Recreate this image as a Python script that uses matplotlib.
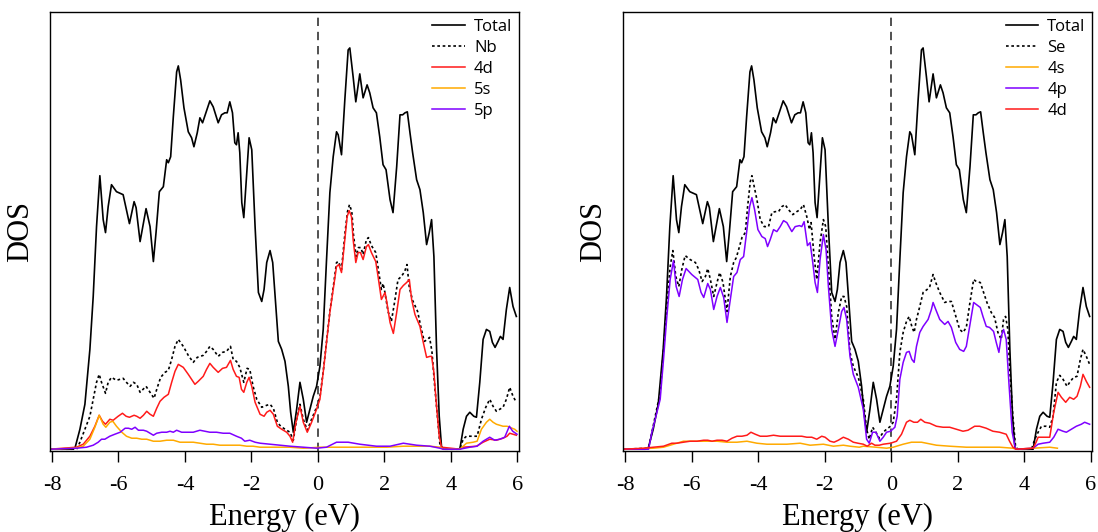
import matplotlib
matplotlib.use("Agg")
import matplotlib.pyplot as plt

# ---------------- data: energies (eV) and DOS (arb. units) ----------------
total_e = [-8.06, -7.40, -7.31, -7.16, -7.01, -6.86, -6.76, -6.66, -6.56, -6.46,
           -6.39, -6.31, -6.21, -6.06, -5.86, -5.76, -5.67, -5.53, -5.47, -5.35,
           -5.17, -5.05, -4.95, -4.87, -4.77, -4.65, -4.55, -4.50, -4.43, -4.35,
           -4.25, -4.20, -4.13, -4.03, -3.90, -3.80, -3.73, -3.63, -3.55, -3.47,
           -3.37, -3.25, -3.15, -3.00, -2.90, -2.80, -2.73, -2.65, -2.57, -2.50,
           -2.45, -2.40, -2.35, -2.29, -2.23, -2.14, -2.07, -1.99, -1.89, -1.79,
           -1.69, -1.62, -1.54, -1.44, -1.36, -1.29, -1.19, -1.09, -0.99, -0.89,
           -0.82, -0.74, -0.64, -0.54, -0.44, -0.34, -0.24, -0.14, -0.04, 0.06,
           0.16, 0.26, 0.36, 0.46, 0.56, 0.61, 0.71, 0.81, 0.91, 0.96,
           1.06, 1.14, 1.26, 1.36, 1.48, 1.56, 1.66, 1.76, 1.86, 1.96,
           2.05, 2.17, 2.26, 2.37, 2.47, 2.55, 2.62, 2.69, 2.77, 2.85,
           2.97, 3.07, 3.17, 3.27, 3.35, 3.42, 3.49, 3.57, 3.65, 3.72,
           3.77, 4.27, 4.37, 4.47, 4.57, 4.69, 4.77, 4.87, 4.97, 5.07,
           5.17, 5.25, 5.33, 5.42, 5.49, 5.57, 5.67, 5.77, 5.87, 5.97]
total_dos = [0, 0, 0.01, 0.20, 0.45, 1.00, 1.53, 2.23, 2.74, 2.30,
             2.17, 2.43, 2.65, 2.58, 2.55, 2.40, 2.26, 2.48, 2.42, 2.08,
             2.41, 2.23, 1.88, 2.17, 2.58, 2.63, 2.90, 2.87, 2.93, 3.33,
             3.78, 3.84, 3.70, 3.42, 3.18, 3.12, 3.03, 3.17, 3.32, 3.27,
             3.37, 3.49, 3.43, 3.27, 3.35, 3.37, 3.37, 3.48, 3.37, 3.07,
             3.05, 3.17, 2.97, 2.47, 2.32, 2.77, 3.12, 3.00, 2.23, 1.57,
             1.48, 1.60, 1.87, 1.99, 1.87, 1.55, 1.08, 1.00, 0.88, 0.63,
             0.37, 0.17, 0.40, 0.67, 0.50, 0.27, 0.40, 0.53, 0.63, 0.83,
             1.20, 1.90, 2.57, 2.93, 3.18, 3.15, 2.95, 3.50, 4.00, 4.02,
             3.73, 3.48, 3.76, 3.52, 3.65, 3.57, 3.42, 3.37, 3.13, 2.85,
             2.80, 2.50, 2.37, 2.83, 3.35, 3.35, 3.37, 3.38, 3.17, 2.97,
             2.70, 2.60, 2.37, 2.05, 2.17, 2.30, 1.93, 1.00, 0.33, 0.02,
             0, 0, 0.20, 0.33, 0.37, 0.33, 0.32, 0.67, 1.10, 1.20,
             1.18, 1.07, 1.02, 1.08, 1.13, 1.10, 1.40, 1.62, 1.43, 1.33]

# Nb projected DOS
nb_e = [-8.06, -7.26, -7.16, -7.01, -6.86, -6.76, -6.66, -6.58, -6.51, -6.39,
        -6.31, -6.21, -6.06, -5.86, -5.76, -5.65, -5.55, -5.45, -5.35, -5.17,
        -5.05, -4.93, -4.83, -4.73, -4.60, -4.50, -4.40, -4.30, -4.20, -4.05,
        -3.90, -3.75, -3.63, -3.45, -3.35, -3.25, -3.15, -3.00, -2.87, -2.75,
        -2.63, -2.55, -2.45, -2.35, -2.23, -2.13, -2.05, -1.95, -1.84, -1.69,
        -1.54, -1.44, -1.34, -1.22, -1.12, -0.99, -0.84, -0.74, -0.64, -0.54,
        -0.44, -0.32, -0.19, -0.04, 0.06, 0.16, 0.26, 0.36, 0.46, 0.56,
        0.62, 0.71, 0.81, 0.89, 0.95, 1.02, 1.07, 1.15, 1.22, 1.29,
        1.36, 1.46, 1.52, 1.61, 1.74, 1.81, 1.91, 1.96, 2.01, 2.11,
        2.21, 2.31, 2.41, 2.51, 2.61, 2.68, 2.75, 2.85, 3.00, 3.10,
        3.20, 3.30, 3.36, 3.43, 3.51, 3.59, 3.67, 3.77, 4.27, 4.37,
        4.47, 4.67, 4.79, 4.92, 5.05, 5.17, 5.27, 5.37, 5.47, 5.57,
        5.67, 5.77, 5.87, 5.97]
nb_dos = [0, 0, 0.07, 0.20, 0.33, 0.50, 0.67, 0.75, 0.67, 0.56,
          0.67, 0.72, 0.69, 0.71, 0.67, 0.63, 0.67, 0.65, 0.57, 0.63,
          0.57, 0.51, 0.62, 0.72, 0.77, 0.79, 0.90, 1.03, 1.10, 1.03,
          0.94, 0.87, 0.92, 0.94, 0.98, 1.03, 1.00, 0.93, 0.97, 0.98,
          1.03, 0.90, 0.88, 0.82, 0.67, 0.81, 0.80, 0.63, 0.50, 0.42,
          0.44, 0.45, 0.41, 0.27, 0.23, 0.20, 0.17, 0.09, 0.30, 0.45,
          0.30, 0.19, 0.30, 0.42, 0.52, 0.78, 1.08, 1.38, 1.62, 1.87,
          1.88, 1.80, 2.15, 2.38, 2.45, 2.38, 2.15, 1.93, 2.02, 2.02,
          1.95, 2.10, 2.12, 2.04, 1.97, 1.82, 1.60, 1.66, 1.58, 1.38,
          1.28, 1.48, 1.70, 1.73, 1.78, 1.85, 1.62, 1.49, 1.38, 1.22,
          1.08, 1.10, 1.12, 0.98, 0.65, 0.35, 0.05, 0, 0, 0.10,
          0.13, 0.13, 0.13, 0.30, 0.42, 0.50, 0.43, 0.38, 0.40, 0.42,
          0.50, 0.62, 0.53, 0.47]

nb4d_e = [-8.06, -7.26, -7.06, -6.86, -6.71, -6.58, -6.48, -6.39, -6.26, -6.16,
          -6.01, -5.88, -5.77, -5.67, -5.53, -5.45, -5.35, -5.25, -5.15, -5.05,
          -4.95, -4.85, -4.75, -4.63, -4.50, -4.40, -4.30, -4.20, -4.05, -3.90,
          -3.80, -3.70, -3.60, -3.45, -3.35, -3.25, -3.15, -3.00, -2.87, -2.75,
          -2.63, -2.55, -2.45, -2.37, -2.30, -2.23, -2.14, -2.07, -1.99, -1.89,
          -1.74, -1.62, -1.54, -1.44, -1.34, -1.22, -1.09, -0.94, -0.84, -0.76,
          -0.66, -0.54, -0.44, -0.32, -0.19, -0.04, 0.06, 0.16, 0.26, 0.36,
          0.46, 0.56, 0.63, 0.71, 0.81, 0.88, 0.94, 1.01, 1.06, 1.14,
          1.21, 1.28, 1.36, 1.46, 1.52, 1.61, 1.74, 1.81, 1.91, 2.02,
          2.07, 2.17, 2.27, 2.37, 2.47, 2.57, 2.67, 2.75, 2.82, 2.92,
          3.07, 3.17, 3.27, 3.37, 3.42, 3.49, 3.57, 3.65, 3.72, 4.27,
          4.37, 4.77, 4.97, 5.17, 5.37, 5.57, 5.69, 5.77, 5.97]
nb4d_dos = [0, 0.02, 0.05, 0.13, 0.23, 0.34, 0.28, 0.25, 0.30, 0.29,
            0.33, 0.36, 0.33, 0.32, 0.34, 0.33, 0.31, 0.34, 0.38, 0.35,
            0.33, 0.41, 0.48, 0.52, 0.55, 0.67, 0.78, 0.85, 0.82, 0.75,
            0.70, 0.65, 0.68, 0.73, 0.80, 0.86, 0.82, 0.77, 0.81, 0.82,
            0.89, 0.80, 0.73, 0.72, 0.60, 0.57, 0.67, 0.72, 0.63, 0.47,
            0.35, 0.33, 0.37, 0.39, 0.35, 0.23, 0.20, 0.17, 0.13, 0.07,
            0.27, 0.43, 0.27, 0.17, 0.27, 0.40, 0.50, 0.77, 1.07, 1.37,
            1.60, 1.83, 1.85, 1.77, 2.10, 2.33, 2.39, 2.33, 2.10, 1.87,
            1.97, 1.97, 1.90, 2.03, 2.05, 1.97, 1.88, 1.73, 1.50, 1.57,
            1.48, 1.27, 1.16, 1.37, 1.60, 1.64, 1.67, 1.70, 1.50, 1.35,
            1.23, 1.07, 0.92, 0.93, 0.93, 0.77, 0.43, 0.13, 0.02, 0,
            0.02, 0.03, 0.07, 0.10, 0.09, 0.11, 0.13, 0.16, 0.14]

nb5s_e = [-8.06, -7.31, -7.06, -6.86, -6.71, -6.58, -6.46, -6.38, -6.26, -6.17,
          -6.06, -5.90, -5.76, -5.60, -5.45, -5.30, -5.15, -4.95, -4.75, -4.55,
          -4.35, -4.15, -3.95, -3.75, -3.55, -3.35, -3.15, -2.95, -2.75, -2.55,
          -2.35, -2.14, -1.95, -1.74, -1.34, -0.84, -0.44, 0.06, 0.56, 1.06,
          1.56, 2.07, 2.57, 2.97, 3.37, 3.67, 3.77, 4.27, 4.37, 4.47,
          4.67, 4.79, 4.92, 5.07, 5.17, 5.27, 5.37, 5.47, 5.57, 5.69,
          5.77, 5.92, 5.99]
nb5s_dos = [0, 0.01, 0.03, 0.10, 0.22, 0.34, 0.25, 0.22, 0.27, 0.28,
            0.23, 0.17, 0.13, 0.11, 0.11, 0.10, 0.10, 0.08, 0.08, 0.09,
            0.09, 0.07, 0.07, 0.07, 0.06, 0.05, 0.05, 0.04, 0.04, 0.04,
            0.04, 0.03, 0.03, 0.02, 0.02, 0.02, 0.01, 0.02, 0.02, 0.02,
            0.02, 0.02, 0.03, 0.03, 0.03, 0.02, 0, 0, 0.03, 0.06,
            0.07, 0.08, 0.20, 0.27, 0.30, 0.27, 0.25, 0.24, 0.23, 0.23,
            0.22, 0.20, 0.18]

nb5p_e = [-8.06, -7.26, -6.96, -6.76, -6.61, -6.51, -6.41, -6.26, -6.11, -5.95,
          -5.80, -5.70, -5.60, -5.50, -5.40, -5.25, -5.15, -5.05, -4.95, -4.85,
          -4.70, -4.55, -4.45, -4.35, -4.25, -4.10, -3.95, -3.75, -3.65, -3.55,
          -3.40, -3.25, -3.05, -2.85, -2.65, -2.45, -2.30, -2.20, -2.05, -1.89,
          -1.74, -1.44, -1.14, -0.84, -0.44, -0.04, 0.26, 0.56, 0.91, 1.26,
          1.76, 2.17, 2.57, 2.97, 3.37, 3.67, 3.77, 4.27, 4.57, 4.79,
          4.97, 5.17, 5.32, 5.47, 5.62, 5.76, 5.86, 5.99]
nb5p_dos = [0, 0.01, 0.02, 0.04, 0.07, 0.10, 0.10, 0.13, 0.15, 0.17,
            0.21, 0.21, 0.20, 0.22, 0.19, 0.19, 0.18, 0.16, 0.14, 0.16,
            0.17, 0.17, 0.18, 0.17, 0.19, 0.17, 0.17, 0.17, 0.18, 0.19,
            0.18, 0.17, 0.17, 0.16, 0.16, 0.13, 0.11, 0.08, 0.09, 0.07,
            0.06, 0.05, 0.04, 0.03, 0.02, 0.01, 0.02, 0.07, 0.07, 0.05,
            0.03, 0.03, 0.06, 0.04, 0.03, 0.01, 0, 0, 0.02, 0.03,
            0.08, 0.12, 0.09, 0.10, 0.12, 0.23, 0.18, 0.15]

# Se projected DOS
se_e = [-8.06, -7.30, -7.20, -7.10, -6.95, -6.85, -6.75, -6.65, -6.57, -6.48,
        -6.39, -6.30, -6.20, -6.05, -5.89, -5.79, -5.69, -5.59, -5.52, -5.44,
        -5.34, -5.24, -5.16, -5.06, -4.94, -4.84, -4.74, -4.66, -4.59, -4.49,
        -4.39, -4.32, -4.24, -4.19, -4.12, -4.04, -3.94, -3.82, -3.69, -3.59,
        -3.49, -3.39, -3.29, -3.19, -3.09, -2.96, -2.84, -2.74, -2.64, -2.54,
        -2.46, -2.41, -2.32, -2.24, -2.14, -2.04, -1.97, -1.89, -1.79, -1.69,
        -1.59, -1.49, -1.42, -1.34, -1.24, -1.14, -0.99, -0.84, -0.74, -0.66,
        -0.56, -0.46, -0.36, -0.24, -0.14, -0.02, 0.06, 0.16, 0.26, 0.36,
        0.46, 0.54, 0.62, 0.69, 0.76, 0.86, 0.96, 1.08, 1.16, 1.26,
        1.34, 1.46, 1.61, 1.71, 1.81, 1.91, 2.06, 2.16, 2.26, 2.36,
        2.48, 2.56, 2.68, 2.78, 2.88, 3.01, 3.11, 3.21, 3.31, 3.38,
        3.44, 3.51, 3.56, 3.66, 3.74, 3.81, 4.22, 4.32, 4.42, 4.52,
        4.66, 4.77, 4.87, 4.97, 5.07, 5.17, 5.29, 5.39, 5.49, 5.59,
        5.69, 5.77, 5.87, 5.97]
se_dos = [0, 0.01, 0.17, 0.33, 0.57, 1.00, 1.43, 1.83, 1.99, 1.73,
          1.63, 1.80, 1.94, 1.90, 1.87, 1.80, 1.68, 1.73, 1.81, 1.70,
          1.53, 1.67, 1.77, 1.67, 1.38, 1.73, 1.87, 1.92, 2.00, 2.12,
          2.17, 2.43, 2.68, 2.74, 2.63, 2.50, 2.30, 2.23, 2.23, 2.37,
          2.38, 2.38, 2.43, 2.45, 2.40, 2.35, 2.38, 2.40, 2.45, 2.33,
          2.20, 2.27, 1.93, 1.70, 2.07, 2.30, 2.23, 1.83, 1.33, 1.10,
          1.37, 1.53, 1.53, 1.43, 0.97, 0.83, 0.72, 0.50, 0.20, 0.10,
          0.22, 0.17, 0.11, 0.17, 0.20, 0.23, 0.27, 0.50, 0.97, 1.17,
          1.28, 1.33, 1.23, 1.17, 1.30, 1.43, 1.57, 1.60, 1.63, 1.75,
          1.67, 1.57, 1.47, 1.48, 1.48, 1.37, 1.20, 1.17, 1.22, 1.45,
          1.70, 1.68, 1.67, 1.57, 1.47, 1.37, 1.32, 1.17, 1.10, 1.30,
          1.33, 1.20, 0.83, 0.33, 0.03, 0, 0, 0.10, 0.17, 0.23,
          0.23, 0.22, 0.33, 0.67, 0.74, 0.70, 0.63, 0.68, 0.72, 0.73,
          0.90, 1.00, 0.93, 0.85]

se4s_e = [-8.06, -7.15, -6.85, -6.55, -6.25, -5.95, -5.64, -5.44, -5.24, -4.94,
          -4.64, -4.34, -4.04, -3.74, -3.44, -3.14, -2.74, -2.44, -2.04, -1.74,
          -1.44, -1.24, -0.96, -0.84, -0.46, -0.14, 0.06, 0.36, 0.61, 0.76,
          0.91, 1.06, 1.36, 1.76, 2.26, 2.76, 3.26, 3.66, 3.76, 4.27,
          4.77, 5.00]
se4s_dos = [0, 0.01, 0.02, 0.05, 0.08, 0.08, 0.08, 0.08, 0.08, 0.07,
            0.07, 0.08, 0.06, 0.05, 0.05, 0.05, 0.06, 0.04, 0.05, 0.03,
            0.04, 0.03, 0.02, 0.03, 0.02, 0.01, 0.02, 0.05, 0.07, 0.07,
            0.07, 0.06, 0.04, 0.03, 0.02, 0.02, 0.02, 0.01, 0, 0.01,
            0.02, 0.01]

se4p_e = [-8.06, -7.30, -7.20, -7.10, -6.95, -6.85, -6.75, -6.65, -6.55, -6.47,
          -6.38, -6.28, -6.17, -6.00, -5.82, -5.72, -5.64, -5.52, -5.44, -5.34,
          -5.24, -5.14, -5.04, -4.94, -4.84, -4.74, -4.64, -4.54, -4.44, -4.34,
          -4.26, -4.19, -4.11, -4.01, -3.89, -3.79, -3.72, -3.64, -3.54, -3.44,
          -3.34, -3.24, -3.14, -2.99, -2.89, -2.76, -2.69, -2.62, -2.52, -2.44,
          -2.36, -2.29, -2.22, -2.14, -2.04, -1.96, -1.89, -1.79, -1.69, -1.59,
          -1.49, -1.42, -1.34, -1.24, -1.14, -0.99, -0.84, -0.74, -0.66, -0.56,
          -0.46, -0.34, -0.24, -0.14, -0.02, 0.11, 0.18, 0.26, 0.36, 0.46,
          0.54, 0.62, 0.69, 0.76, 0.86, 0.96, 1.11, 1.21, 1.26, 1.34,
          1.46, 1.61, 1.71, 1.81, 1.94, 2.06, 2.18, 2.26, 2.36, 2.48,
          2.56, 2.68, 2.76, 2.86, 2.96, 3.08, 3.16, 3.24, 3.31, 3.38,
          3.46, 3.54, 3.64, 3.74, 4.27, 4.42, 4.57, 4.77, 4.89, 5.02,
          5.17, 5.27, 5.42, 5.57, 5.72, 5.82, 5.97]
se4p_dos = [0, 0, 0.17, 0.30, 0.50, 0.90, 1.33, 1.70, 1.89, 1.63,
            1.53, 1.70, 1.81, 1.75, 1.70, 1.57, 1.52, 1.66, 1.60, 1.40,
            1.53, 1.62, 1.52, 1.27, 1.50, 1.73, 1.77, 1.90, 1.93, 2.20,
            2.43, 2.52, 2.40, 2.20, 2.13, 2.11, 2.03, 2.10, 2.20, 2.18,
            2.23, 2.29, 2.27, 2.18, 2.23, 2.24, 2.23, 2.28, 2.04, 2.07,
            1.87, 1.67, 1.57, 1.90, 2.15, 2.00, 1.63, 1.20, 1.03, 1.20,
            1.38, 1.42, 1.30, 0.93, 0.75, 0.62, 0.40, 0.10, 0.06, 0.17,
            0.17, 0.08, 0.12, 0.17, 0.18, 0.22, 0.33, 0.70, 0.87, 0.97,
            0.98, 0.90, 0.87, 1.03, 1.17, 1.23, 1.30, 1.40, 1.47, 1.40,
            1.30, 1.25, 1.28, 1.22, 1.07, 1.00, 0.98, 1.03, 1.23, 1.47,
            1.45, 1.42, 1.33, 1.23, 1.22, 1.18, 1.07, 0.97, 1.13, 1.20,
            1.10, 0.67, 0.17, 0, 0.01, 0.05, 0.06, 0.07, 0.12, 0.20,
            0.18, 0.17, 0.20, 0.23, 0.25, 0.27, 0.25]

se4d_e = [-8.06, -7.45, -7.15, -6.85, -6.60, -6.45, -6.25, -6.05, -5.84, -5.64,
          -5.52, -5.39, -5.24, -5.09, -4.94, -4.79, -4.64, -4.49, -4.34, -4.22,
          -4.09, -3.94, -3.74, -3.54, -3.34, -3.14, -2.89, -2.69, -2.54, -2.39,
          -2.24, -2.09, -1.99, -1.84, -1.72, -1.59, -1.44, -1.29, -1.14, -1.00,
          -0.84, -0.72, -0.59, -0.49, -0.36, -0.24, -0.02, 0.16, 0.31, 0.46,
          0.56, 0.68, 0.79, 0.89, 1.01, 1.16, 1.36, 1.56, 1.76, 1.96,
          2.16, 2.31, 2.51, 2.66, 2.86, 3.06, 3.26, 3.46, 3.56, 3.66,
          3.76, 4.27, 4.36, 4.42, 4.57, 4.77, 4.89, 5.02, 5.12, 5.25,
          5.37, 5.49, 5.59, 5.69, 5.77, 5.87, 5.97]
se4d_dos = [0, 0.01, 0.02, 0.03, 0.06, 0.06, 0.07, 0.08, 0.08, 0.09,
            0.09, 0.08, 0.09, 0.09, 0.08, 0.11, 0.13, 0.13, 0.14, 0.17,
            0.15, 0.13, 0.13, 0.14, 0.13, 0.13, 0.13, 0.13, 0.12, 0.12,
            0.10, 0.13, 0.12, 0.08, 0.07, 0.09, 0.12, 0.10, 0.07, 0.06,
            0.05, 0.03, 0.06, 0.04, 0.04, 0.05, 0.06, 0.08, 0.15, 0.27,
            0.29, 0.27, 0.27, 0.30, 0.27, 0.26, 0.23, 0.22, 0.22, 0.20,
            0.18, 0.19, 0.23, 0.23, 0.21, 0.18, 0.17, 0.15, 0.08, 0.02,
            0, 0.01, 0.07, 0.12, 0.12, 0.12, 0.37, 0.57, 0.52, 0.47,
            0.52, 0.50, 0.53, 0.63, 0.75, 0.68, 0.62]

energy_ticks = [-8, -6, -4, -2, 0, 2, 4, 6]

# ---------------- styling ----------------
plt.rcParams["axes.unicode_minus"] = False
SERIF = "Liberation Serif"
LEGEND_FONT = "Open Sans"
RED, ORANGE, PURPLE = "#ff1a1a", "#ffaa00", "#7f00ff"
DOTTED = (0, (1.6, 1.6))

fig = plt.figure(figsize=(10.98, 5.32), dpi=100)
W, H = 1098.0, 532.0
ax_w, ax_h, ax_b = 469 / W, 438.7 / H, 1 - 450.7 / H
ax1 = fig.add_axes([50 / W, ax_b, ax_w, ax_h])
ax2 = fig.add_axes([623.3 / W, ax_b, ax_w, ax_h])


def decorate(ax):
    ax.set_xlim(-8.06, 6.05)
    ax.set_ylim(-0.015, 4.38)
    ax.set_xticks(energy_ticks)
    ax.set_xticklabels([str(t) for t in energy_ticks], fontfamily=SERIF, fontsize=16)
    ax.set_yticks([])
    ax.tick_params(axis="x", direction="out", length=8, width=1.0, pad=10)
    for sp in ax.spines.values():
        sp.set_linewidth(1.0)
    ax.axvline(0, color="#333333", lw=1.2, ls=(0, (5, 3.5)), zorder=1)
    ax.set_xlabel("Energy (eV)", fontfamily=SERIF, fontsize=22, labelpad=6)
    ax.set_ylabel("DOS", fontfamily=SERIF, fontsize=22, labelpad=11)


# left panel: Nb
ax1.plot(total_e, total_dos, color="black", lw=1.2, label="Total")
ax1.plot(nb_e, nb_dos, color="black", lw=1.2, ls=DOTTED, label="Nb")
ax1.plot(nb4d_e, nb4d_dos, color=RED, lw=1.1, label="4d")
ax1.plot(nb5s_e, nb5s_dos, color=ORANGE, lw=1.1, label="5s")
ax1.plot(nb5p_e, nb5p_dos, color=PURPLE, lw=1.1, label="5p")

# right panel: Se
ax2.plot(total_e, total_dos, color="black", lw=1.2, label="Total")
ax2.plot(se_e, se_dos, color="black", lw=1.2, ls=DOTTED, label="Se")
ax2.plot(se4s_e, se4s_dos, color=ORANGE, lw=1.1, label="4s")
ax2.plot(se4p_e, se4p_dos, color=PURPLE, lw=1.1, label="4p")
ax2.plot(se4d_e, se4d_dos, color=RED, lw=1.1, label="4d")

for ax in (ax1, ax2):
    decorate(ax)
    ax.legend(loc="upper right", frameon=False, prop={"family": LEGEND_FONT, "size": 12},
              handlelength=1.95, handletextpad=0.55, labelspacing=0.3,
              borderaxespad=0.2, borderpad=0.2)

fig.savefig("out.png", dpi=100)
